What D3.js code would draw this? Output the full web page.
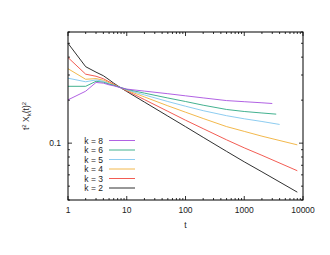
<!DOCTYPE html>
<html>
<head>
<meta charset="utf-8">
<script src="https://cdn.jsdelivr.net/npm/d3@7"></script>
<style>
  body { margin: 0; background: #fff; }
  text { font-family: "Liberation Sans", Arial, sans-serif; fill: #222; }
</style>
</head>
<body>
<svg id="svg"></svg>
<script>
// t values sampled along each curve; the last point of each run is in tEnd
const tShort = [1, 2, 3, 4, 5, 6, 8, 10, 20, 50, 100, 200, 500, 1000, 2000];

// values of t^2 X_k(t)^2
const k8 = [0.201, 0.231, 0.266, 0.263, 0.256, 0.252, 0.244, 0.239, 0.2314, 0.2219, 0.2145, 0.2074, 0.1986, 0.1951, 0.1917, 0.1895];
const k6 = [0.250, 0.250, 0.271, 0.267, 0.259, 0.254, 0.245, 0.238, 0.2240, 0.2071, 0.1957, 0.1844, 0.1721, 0.1666, 0.1626, 0.1596];
const k5 = [0.285, 0.269, 0.277, 0.271, 0.261, 0.2545, 0.244, 0.236, 0.2176, 0.1957, 0.1814, 0.1688, 0.1557, 0.1481, 0.1418, 0.1352];
const k4 = [0.332, 0.280, 0.283, 0.276, 0.265, 0.257, 0.2444, 0.2347, 0.2107, 0.1826, 0.1647, 0.1488, 0.1306, 0.1209, 0.1119, 0.0973];
const k3 = [0.3975, 0.304, 0.294, 0.2825, 0.269, 0.2586, 0.2436, 0.2325, 0.2018, 0.1671, 0.1448, 0.1263, 0.1055, 0.0927, 0.0822, 0.0641];
const k2 = [0.500, 0.343, 0.314, 0.2965, 0.278, 0.263, 0.2432, 0.230, 0.1939, 0.1547, 0.1305, 0.1098, 0.0876, 0.0740, 0.0630, 0.0454];

// last t of each run
const tEnd = { 8: 3000, 6: 3500, 5: 4000, 4: 8000, 3: 8000, 2: 8000 };

const series = [
  { k: 8, values: k8, color: '#a850e0' },
  { k: 6, values: k6, color: '#2ea882' },
  { k: 5, values: k5, color: '#80c6ee' },
  { k: 4, values: k4, color: '#f0b038' },
  { k: 3, values: k3, color: '#f04a40' },
  { k: 2, values: k2, color: '#1a1a1a' }
];

const xTicks = [1, 10, 100, 1000, 10000];
const yTicks = [0.1];

const width = 330;
const height = 255;
const margin = { top: 32, right: 27, bottom: 55, left: 68 };

const svg = d3.select('#svg')
  .attr('width', width)
  .attr('height', height);

const x = d3.scaleLog()
  .domain([1, 10000])
  .range([margin.left, width - margin.right]);

const y = d3.scaleLog()
  .domain([0.04, 0.6])
  .range([height - margin.bottom, margin.top]);

// minor ticks, 2..9 in each decade
const xMinor = [];
[1, 10, 100, 1000].forEach(d => {
  for (let i = 2; i <= 9; i++) xMinor.push(d * i);
});
const yMinor = [0.04, 0.05, 0.06, 0.07, 0.08, 0.09, 0.2, 0.3, 0.4, 0.5, 0.6];

const bigTick = 4;
const smallTick = 2;

// inward ticks on all four sides
const axes = svg.append('g').attr('stroke', '#000').attr('stroke-width', 0.8);

function xTickMarks(vals, len) {
  vals.forEach(v => {
    axes.append('line')
      .attr('x1', x(v)).attr('x2', x(v))
      .attr('y1', y.range()[0]).attr('y2', y.range()[0] - len);
    axes.append('line')
      .attr('x1', x(v)).attr('x2', x(v))
      .attr('y1', y.range()[1]).attr('y2', y.range()[1] + len);
  });
}
function yTickMarks(vals, len) {
  vals.forEach(v => {
    axes.append('line')
      .attr('y1', y(v)).attr('y2', y(v))
      .attr('x1', x.range()[0]).attr('x2', x.range()[0] + len);
    axes.append('line')
      .attr('y1', y(v)).attr('y2', y(v))
      .attr('x1', x.range()[1]).attr('x2', x.range()[1] - len);
  });
}
xTickMarks(xTicks, bigTick);
xTickMarks(xMinor, smallTick);
yTickMarks(yTicks, bigTick);
yTickMarks(yMinor, smallTick);

// tick labels
svg.append('g')
  .selectAll('text')
  .data(xTicks)
  .join('text')
  .attr('x', d => x(d))
  .attr('y', y.range()[0] + 13)
  .attr('text-anchor', 'middle')
  .attr('font-size', '8.5px')
  .text(d => d);

svg.append('g')
  .selectAll('text')
  .data(yTicks)
  .join('text')
  .attr('x', x.range()[0] - 7)
  .attr('y', d => y(d) + 3)
  .attr('text-anchor', 'end')
  .attr('font-size', '8.5px')
  .text(d => d);

// axis titles
svg.append('text')
  .attr('x', (x.range()[0] + x.range()[1]) / 2)
  .attr('y', y.range()[0] + 28)
  .attr('text-anchor', 'middle')
  .attr('font-size', '8.5px')
  .text('t');

const yTitle = svg.append('text')
  .attr('transform', `translate(29, 116) rotate(-90)`)
  .attr('text-anchor', 'middle')
  .attr('font-size', '8.5px');
yTitle.append('tspan').text('t');
yTitle.append('tspan').attr('font-size', '6px').attr('dy', -3.5).text('2');
yTitle.append('tspan').attr('dy', 3.5).text(' X');
yTitle.append('tspan').attr('font-size', '6px').attr('dy', 2).text('k');
yTitle.append('tspan').attr('dy', -2).text('(t)');
yTitle.append('tspan').attr('font-size', '6px').attr('dy', -3.5).text('2');

// curves
const line = d3.line()
  .x(d => x(d[0]))
  .y(d => y(d[1]));

const g = svg.append('g');
series.slice().reverse().forEach(s => {
  const ts = tShort.concat([tEnd[s.k]]);
  const pts = ts.map((t, i) => [t, s.values[i]]);
  g.append('path')
    .datum(pts)
    .attr('d', line)
    .attr('fill', 'none')
    .attr('stroke', s.color)
    .attr('stroke-width', 0.9);
});

// frame
svg.append('rect')
  .attr('x', x.range()[0])
  .attr('y', y.range()[1])
  .attr('width', x.range()[1] - x.range()[0])
  .attr('height', y.range()[0] - y.range()[1])
  .attr('fill', 'none')
  .attr('stroke', '#000')
  .attr('stroke-width', 1);

// legend
const legend = svg.append('g');
series.forEach((s, i) => {
  const ly = 140.5 + i * 9.5;
  legend.append('text')
    .attr('x', 103)
    .attr('y', ly + 3)
    .attr('text-anchor', 'end')
    .attr('font-size', '8.5px')
    .text(`k = ${s.k}`);
  legend.append('line')
    .attr('x1', 109).attr('x2', 135)
    .attr('y1', ly).attr('y2', ly)
    .attr('stroke', s.color)
    .attr('stroke-width', 0.9);
});
</script>
</body>
</html>
